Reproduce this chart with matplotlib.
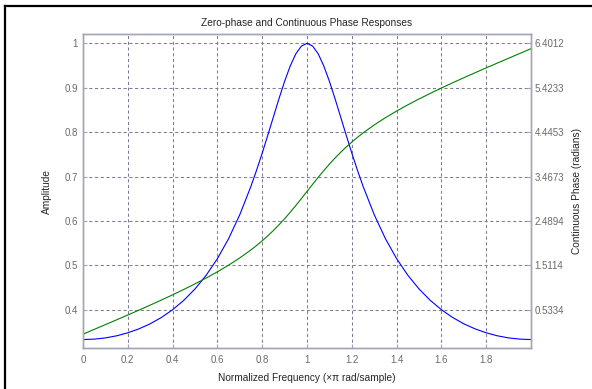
import matplotlib
matplotlib.use('Agg')
import matplotlib.pyplot as plt
from matplotlib.lines import Line2D

plt.rcParams['font.family'] = ['Liberation Sans', 'DejaVu Sans']

# normalized frequency (x pi rad/sample)
freq = [0.0, 0.05, 0.1, 0.15, 0.2, 0.25, 0.3, 0.35, 0.4, 0.45, 0.5, 0.55, 0.6,
        0.65, 0.7, 0.75, 0.775, 0.8, 0.825, 0.85, 0.875, 0.9, 0.925, 0.95,
        0.975, 1.0, 1.025, 1.05, 1.075, 1.1, 1.125, 1.15, 1.175, 1.2, 1.225,
        1.25, 1.3, 1.35, 1.4, 1.45, 1.5, 1.55, 1.6, 1.65, 1.7, 1.75, 1.8,
        1.85, 1.9, 1.95, 2.0]

# zero-phase amplitude
amplitude = [0.3333, 0.3343, 0.3370, 0.3417, 0.3485, 0.3574, 0.3688, 0.3830,
             0.4005, 0.4216, 0.4472, 0.4781, 0.5154, 0.5604, 0.6144, 0.6786,
             0.7146, 0.7530, 0.7932, 0.8345, 0.8756, 0.9145, 0.9489, 0.9763,
             0.9939, 1.0000, 0.9939, 0.9763, 0.9489, 0.9145, 0.8756, 0.8345,
             0.7932, 0.7530, 0.7146, 0.6786, 0.6144, 0.5604, 0.5154, 0.4781,
             0.4472, 0.4216, 0.4005, 0.3830, 0.3688, 0.3574, 0.3485, 0.3417,
             0.3370, 0.3343, 0.3333]

# continuous phase (radians)
phase = [0.0000, 0.1048, 0.2098, 0.3155, 0.4220, 0.5299, 0.6393, 0.7510,
         0.8657, 0.9844, 1.1072, 1.2359, 1.3724, 1.5191, 1.6787, 1.8555,
         1.9520, 2.0548, 2.1645, 2.2816, 2.4071, 2.5409, 2.6826, 2.8312,
         2.9850, 3.1416, 3.2982, 3.4520, 3.6006, 3.7423, 3.8761, 4.0016,
         4.1187, 4.2284, 4.3312, 4.4277, 4.6045, 4.7641, 4.9108, 5.0473,
         5.1760, 5.2988, 5.4175, 5.5322, 5.6439, 5.7533, 5.8612, 5.9677,
         6.0734, 6.1784, 6.2832]

amp_ticks = [0.4, 0.5, 0.6, 0.7, 0.8, 0.9, 1.0]
amp_labels = ['0.4', '0.5', '0.6', '0.7', '0.8', '0.9', '1']
phase_ticks = [0.5334, 1.5114, 2.4894, 3.4673, 4.4453, 5.4233, 6.4012]
freq_ticks = [0, 0.2, 0.4, 0.6, 0.8, 1.0, 1.2, 1.4, 1.6, 1.8]
freq_labels = ['0', '0.2', '0.4', '0.6', '0.8', '1', '1.2', '1.4', '1.6', '1.8']

box_col = '#a4a4b8'
grid_col = '#7c7c96'
tick_col = '#6a6a6a'
text_col = '#262626'

fig = plt.figure(figsize=(5.92, 3.89), dpi=100)
fig.patch.set_facecolor('white')

# window frame along the top and left edges
fig.add_artist(Line2D([0.009, 0.009], [0, 0.984], transform=fig.transFigure,
                      color='black', lw=1.6))
fig.add_artist(Line2D([0.009, 1.0], [0.984, 0.984], transform=fig.transFigure,
                      color='black', lw=1.6))

ax = fig.add_axes([0.1402, 0.1046, 0.7568, 0.8072])
amp_lo, amp_hi = 0.3136, 1.0203
ax.set_xlim(0, 2.0)
ax.set_ylim(amp_lo, amp_hi)

ax.plot(freq, amplitude, color='#0000ff', lw=0.8)

ax.set_xticks(freq_ticks)
ax.set_xticklabels(freq_labels)
ax.set_yticks(amp_ticks)
ax.set_yticklabels(amp_labels)

for s in ax.spines.values():
    s.set_color(box_col)
    s.set_linewidth(1.0)
ax.tick_params(direction='in', length=3, color=box_col, labelcolor=tick_col,
               labelsize=7)
ax.tick_params(axis='x', pad=4.5)
ax.tick_params(axis='y', pad=3.5)
ax.grid(True, color=grid_col, lw=0.75, linestyle=(0, (3, 2.5)))

# right-hand phase axis, aligned with the amplitude grid
ax2 = ax.twinx()
k = (phase_ticks[-1] - phase_ticks[0]) / (amp_ticks[-1] - amp_ticks[0])
ax2.set_ylim(phase_ticks[0] + (amp_lo - amp_ticks[0]) * k,
             phase_ticks[0] + (amp_hi - amp_ticks[0]) * k)
ax2.plot(freq, phase, color='#008000', lw=0.8)
ax2.set_yticks(phase_ticks)
ax2.set_yticklabels(['%.4f' % v for v in phase_ticks])
for s in ax2.spines.values():
    s.set_color(box_col)
    s.set_linewidth(1.0)
ax2.tick_params(direction='in', length=3, color=box_col, labelcolor=tick_col,
                labelsize=7, pad=2.5)

ax.set_title('Zero-phase and Continuous Phase Responses', fontsize=7.3,
             color=text_col, pad=6)
ax.set_xlabel('Normalized Frequency (\u00d7\u03c0 rad/sample)', fontsize=7.3,
              color=text_col)
ax.xaxis.set_label_coords(0.5, -0.078)
ax.set_ylabel('Amplitude', fontsize=7.3, color=text_col)
ax.yaxis.set_label_coords(-0.069, 0.5)
ax2.set_ylabel('Continuous Phase (radians)', fontsize=7.3, color=text_col)
ax2.yaxis.set_label_coords(1.0915, 0.5)

fig.savefig('out.png', dpi=100)
